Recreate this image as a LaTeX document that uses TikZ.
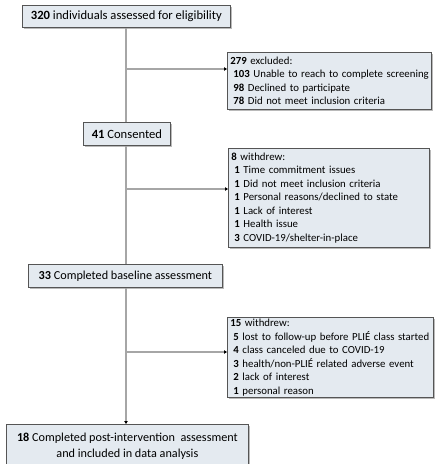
\documentclass[tikz,border=0pt]{standalone}
\usepackage{fontspec}
\setmainfont{Carlito}
\usetikzlibrary{arrows.meta,shadows}
\definecolor{boxfill}{HTML}{E4EAF0}
\definecolor{boxline}{HTML}{555555}
\definecolor{conn}{HTML}{A6A6A6}
\begin{document}
\begin{tikzpicture}[x=1pt,y=-1pt,
  box/.style={draw=boxline, fill=boxfill, line width=0.8pt, anchor=north west,
    inner xsep=3pt, inner ysep=1pt, font=\fontsize{10.8}{13.5}\selectfont,
    drop shadow={shadow xshift=1.2pt, shadow yshift=-1.2pt, fill=black!45, opacity=0.6}},
  mainbox/.style={box, inner ysep=2pt, font=\fontsize{12.6}{15}\selectfont},
  conn/.style={draw=conn, line width=1.2pt},
  arr/.style={conn, -{Triangle[length=3pt,width=3.5pt,fill=black,color=black]}}]
\useasboundingbox (0,0) rectangle (435,464);
\begin{scope}
\clip (0,0) rectangle (435,464);
% main column
\node[mainbox, minimum width=208, minimum height=22, inner xsep=2pt, align=left] (a) at (22,5) {\textbf{320} individuals assessed for eligibility};
\node[mainbox, minimum width=87, minimum height=23, align=left] (b) at (83,122) {\textbf{41} Consented};
\node[mainbox, minimum width=194, minimum height=23, align=left, font=\fontsize{12.2}{15}\selectfont] (c) at (28,264) {\textbf{33} Completed baseline assessment};
\node[mainbox, minimum width=242, minimum height=44, align=center, font=\fontsize{12.2}{15.5}\selectfont] (d) at (6,424) {\textbf{18} Completed post-intervention\ \ assessment\\and included in data analysis};
% side boxes
\node[box, minimum width=204, minimum height=57, text width=198pt, align=left] (e) at (227,52) {\textbf{279} excluded:\\
\mbox{\hspace*{3pt}\textbf{103} Unable to reach to complete screening}\\
\hspace*{3pt}\textbf{98} Declined to participate\\
\hspace*{3pt}\textbf{78} Did not meet inclusion criteria};
\node[box, minimum width=201, minimum height=99, text width=195pt, align=left] (f) at (228,148) {\textbf{8} withdrew:\\
\hspace*{3pt}\textbf{1} Time commitment issues\\
\hspace*{3pt}\textbf{1} Did not meet inclusion criteria\\
\hspace*{3pt}\textbf{1} Personal reasons/declined to state\\
\hspace*{3pt}\textbf{1} Lack of interest\\
\hspace*{3pt}\textbf{1} Health issue\\
\hspace*{3pt}\textbf{3} COVID-19/shelter-in-place};
\node[box, minimum width=206, minimum height=80, text width=200pt, align=left] (g) at (227,317) {\textbf{15} withdrew:\\
\mbox{\hspace*{3pt}\textbf{5} lost to follow-up before PLIÉ class started}\\
\hspace*{3pt}\textbf{4} class canceled due to COVID-19\\
\hspace*{3pt}\textbf{3} health/non-PLIÉ related adverse event\\
\hspace*{3pt}\textbf{2} lack of interest\\
\hspace*{3pt}\textbf{1} personal reason};
% branch points
\coordinate (p1) at (126,69);
\coordinate (p2) at (126,189);
\coordinate (p3) at (126,352);
\draw[conn] (a.south -| p1) -- (b.north -| p1);
\draw[conn] (b.south -| p1) -- (c.north -| p1);
\draw[arr] (c.south -| p1) -- (d.north -| p1);
\draw[arr] (p1) -- (e.west |- p1);
\draw[arr] (p2) -- (f.west |- p2);
\draw[arr] (p3) -- (g.west |- p3);
\end{scope}
\end{tikzpicture}
\end{document}
